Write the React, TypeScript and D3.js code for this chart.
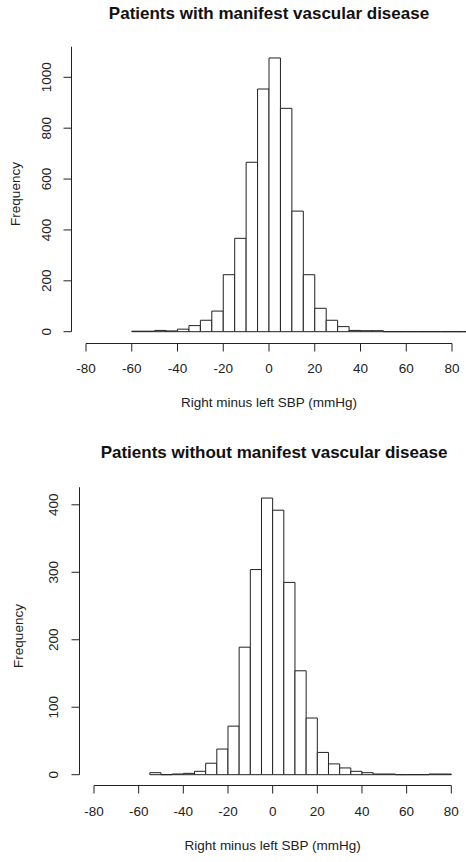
import React from "react";
import * as d3 from "d3";

const binWidth = 5;
const topStart = -60;
const topCounts = [2, 2, 5, 3, 10, 24, 45, 81, 224, 367, 666, 954, 1076, 878, 474, 224, 92, 45, 20, 5, 4, 4, 0, 0, 0, 0, 0, 0, 0, 0, 0, 0];
const bottomStart = -55;
const bottomCounts = [3, 0, 1, 2, 5, 17, 38, 72, 189, 304, 410, 392, 285, 154, 84, 33, 16, 10, 5, 3, 1, 1, 0, 0, 0, 1, 1];
const xTicks = [-80, -60, -40, -20, 0, 20, 40, 60, 80];
const topYTicks = [0, 200, 400, 600, 800, 1000];
const bottomYTicks = [0, 100, 200, 300, 400];
const topTitle = "Patients with manifest vascular disease";
const bottomTitle = "Patients without manifest vascular disease";
const xLabel = "Right minus left SBP (mmHg)";
const yLabel = "Frequency";

type PanelProps = {
  title: string;
  start: number;
  counts: number[];
  yTicks: number[];
  yMaxAxis: number;
  xRange: [number, number];
  yRange: [number, number];
  yAxisX: number;
  xAxisY: number;
  titleY: number;
  titleX: number;
  tickLabelX: number;
  freqX: number;
  freqY: number;
  xTickLabelY: number;
  xTitleY: number;
};

const FONT = "'Liberation Sans', Arial, sans-serif";
const INK = "#222";

function Panel(p: PanelProps) {
  const x = d3.scaleLinear().domain([-80, 80]).range(p.xRange);
  const y = d3.scaleLinear().domain([0, p.yTicks[p.yTicks.length - 1]]).range(p.yRange);
  const bins = p.counts.map((c, i) => ({ x0: p.start + i * binWidth, x1: p.start + (i + 1) * binWidth, c }));
  return (
    <g>
      <text x={p.titleX} y={p.titleY} textAnchor="middle" fontFamily={FONT} fontWeight="bold" fontSize={17} fill="#111">
        {p.title}
      </text>
      {bins.map((b, i) => (
        <path
          key={i}
          d={`M${x(b.x0)},${y(0)}V${y(b.c)}H${x(b.x1)}V${y(0)}Z`}
          fill="white"
          stroke={INK}
          strokeWidth={1}
        />
      ))}
      {/* y axis */}
      <line x1={p.yAxisX} x2={p.yAxisX} y1={y(0)} y2={y(p.yMaxAxis)} stroke={INK} strokeWidth={1} />
      {p.yTicks.map((t) => (
        <g key={t}>
          <line x1={p.yAxisX - 8} x2={p.yAxisX} y1={y(t)} y2={y(t)} stroke={INK} strokeWidth={1} />
          <text
            transform={`translate(${p.tickLabelX},${y(t)}) rotate(-90)`}
            textAnchor="middle"
            dominantBaseline="central"
            fontFamily={FONT}
            fontSize={13.5}
            fill={INK}
          >
            {t}
          </text>
        </g>
      ))}
      <text
        transform={`translate(${p.freqX},${p.freqY}) rotate(-90)`}
        textAnchor="middle"
        dominantBaseline="central"
        fontFamily={FONT}
        fontSize={13.5}
        fill={INK}
      >
        {yLabel}
      </text>
      {/* x axis */}
      <line x1={x(-80)} x2={x(80)} y1={p.xAxisY} y2={p.xAxisY} stroke={INK} strokeWidth={1} />
      {xTicks.map((t) => (
        <g key={t}>
          <line x1={x(t)} x2={x(t)} y1={p.xAxisY} y2={p.xAxisY + 8} stroke={INK} strokeWidth={1} />
          <text x={x(t)} y={p.xTickLabelY} textAnchor="middle" dominantBaseline="central" fontFamily={FONT} fontSize={13.5} fill={INK}>
            {t}
          </text>
        </g>
      ))}
      <text x={x(0)} y={p.xTitleY} textAnchor="middle" dominantBaseline="central" fontFamily={FONT} fontSize={13.5} fill={INK}>
        {xLabel}
      </text>
    </g>
  );
}

export default function App() {
  return (
    <svg width={466} height={862} style={{ position: "absolute", left: 0, top: 0, background: "white" }}>
      <rect x={0} y={0} width={466} height={862} fill="white" />
      <Panel
        title={topTitle}
        start={topStart}
        counts={topCounts}
        yTicks={topYTicks}
        yMaxAxis={1120}
        xRange={[86, 452]}
        yRange={[331.7, 77.3]}
        yAxisX={71.5}
        xAxisY={343.5}
        titleX={269}
        titleY={19}
        tickLabelX={46.7}
        freqX={15}
        freqY={194}
        xTickLabelY={368.3}
        xTitleY={402.7}
      />
      <Panel
        title={bottomTitle}
        start={bottomStart}
        counts={bottomCounts}
        yTicks={bottomYTicks}
        yMaxAxis={426}
        xRange={[94, 451.3]}
        yRange={[774.7, 504.8]}
        yAxisX={79.5}
        xAxisY={785.5}
        titleX={274}
        titleY={458}
        tickLabelX={53}
        freqX={18}
        freqY={636}
        xTickLabelY={811}
        xTitleY={845}
      />
    </svg>
  );
}
